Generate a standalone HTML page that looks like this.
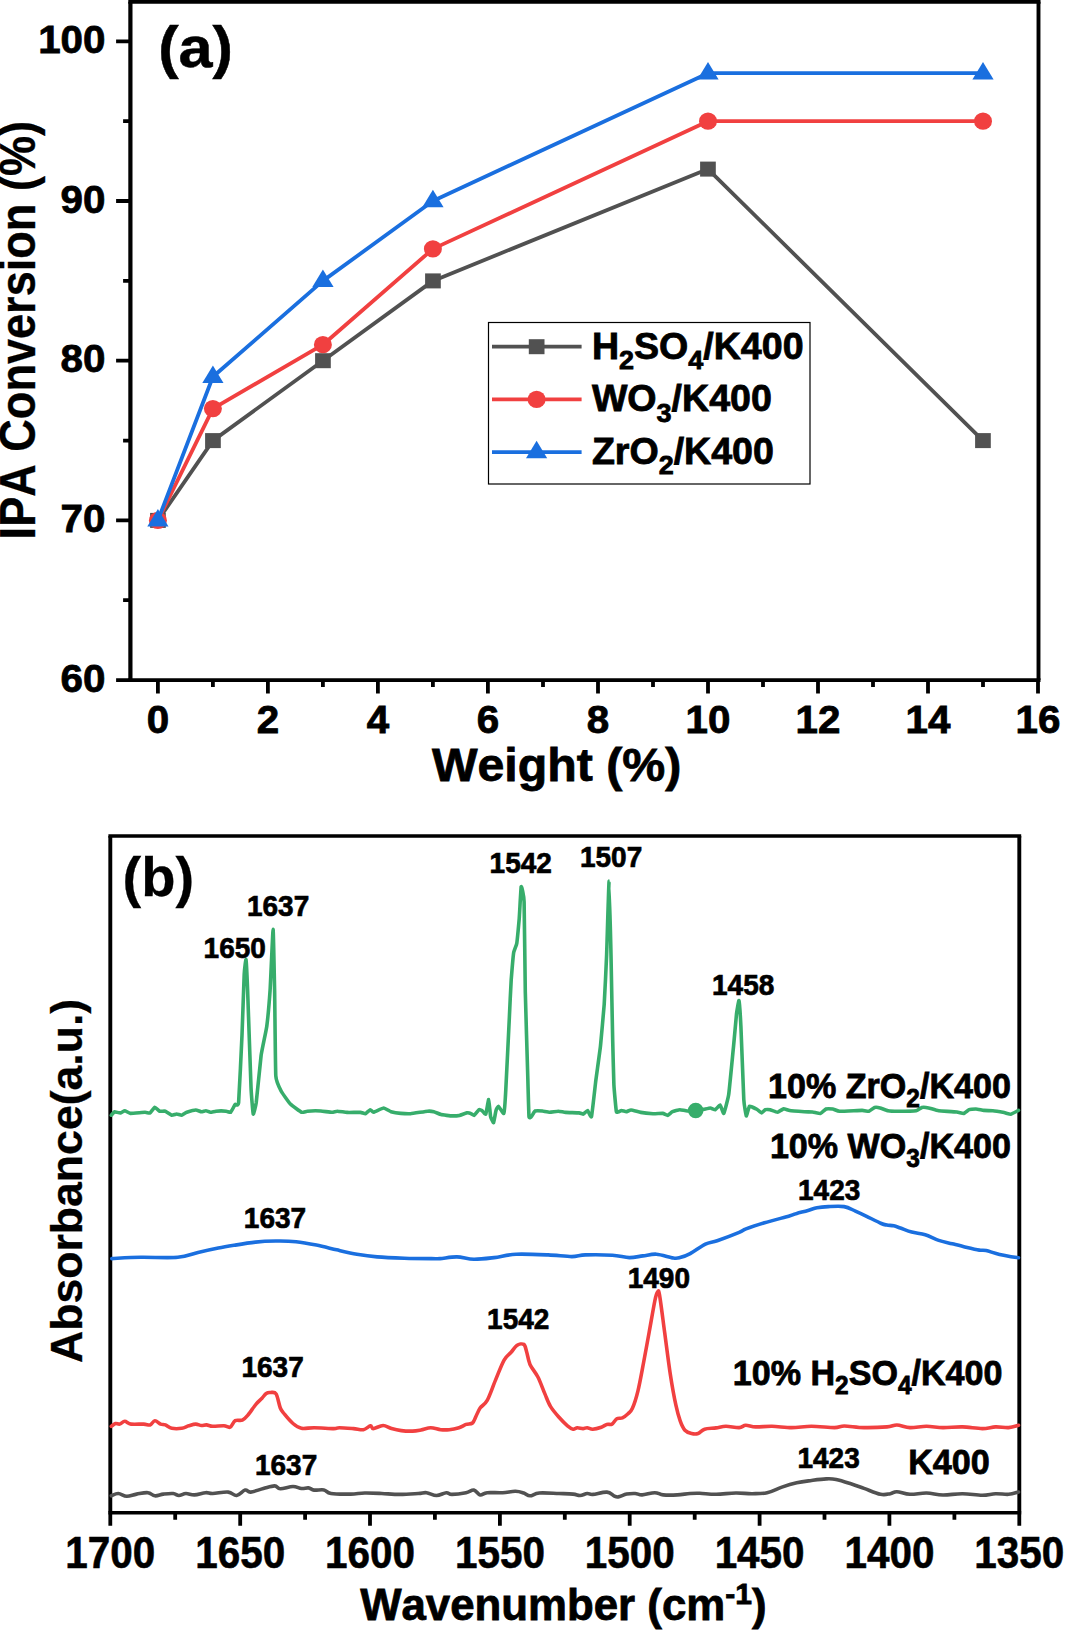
<!DOCTYPE html>
<html><head><meta charset="utf-8"><title>Figure</title>
<style>html,body{margin:0;padding:0;background:#fff}svg{display:block}text{font-family:"Liberation Sans",Arial,sans-serif;font-weight:bold;fill:#000;font-kerning:none}</style></head><body>
<svg width="1065" height="1632" viewBox="0 0 1065 1632">
<rect width="1065" height="1632" fill="#fff"/>
<g stroke="#000" fill="none" stroke-linecap="butt">
<path d="M128.3,1.8H1040.5M128.3,680.1H1040.5" stroke-width="3.7"/>
<path d="M130.4,1.8V680.1" stroke-width="4.2"/><path d="M1038.5,1.8V680.1" stroke-width="3.9"/>
<path stroke-width="3.8" d="M116.1,680.1H130.4M123.1,600.2H130.4M116.1,520.4H130.4M123.1,440.6H130.4M116.1,360.7H130.4M123.1,280.9H130.4M116.1,201.0H130.4M123.1,121.2H130.4M116.1,41.3H130.4"/>
<path stroke-width="3.8" d="M157.9,680.1V693.4M212.9,680.1V687.1M267.9,680.1V693.4M322.9,680.1V687.1M377.9,680.1V693.4M432.9,680.1V687.1M487.9,680.1V693.4M543.0,680.1V687.1M598.0,680.1V693.4M653.0,680.1V687.1M708.0,680.1V693.4M763.0,680.1V687.1M818.0,680.1V693.4M873.0,680.1V687.1M928.0,680.1V693.4M983.0,680.1V687.1M1038.0,680.1V693.4"/>
</g>
<text transform="translate(105.5,691.6) scale(1.04,1)" font-size="38.8" text-anchor="end" stroke="#000" stroke-width="0.8">60</text>
<text transform="translate(105.5,531.9) scale(1.04,1)" font-size="38.8" text-anchor="end" stroke="#000" stroke-width="0.8">70</text>
<text transform="translate(105.5,372.2) scale(1.04,1)" font-size="38.8" text-anchor="end" stroke="#000" stroke-width="0.8">80</text>
<text transform="translate(105.5,212.5) scale(1.04,1)" font-size="38.8" text-anchor="end" stroke="#000" stroke-width="0.8">90</text>
<text transform="translate(105.5,52.8) scale(1.04,1)" font-size="38.8" text-anchor="end" stroke="#000" stroke-width="0.8">100</text>
<text transform="translate(157.9,733.2) scale(1.04,1)" font-size="38.8" text-anchor="middle" stroke="#000" stroke-width="0.8">0</text>
<text transform="translate(267.9,733.2) scale(1.04,1)" font-size="38.8" text-anchor="middle" stroke="#000" stroke-width="0.8">2</text>
<text transform="translate(377.9,733.2) scale(1.04,1)" font-size="38.8" text-anchor="middle" stroke="#000" stroke-width="0.8">4</text>
<text transform="translate(487.9,733.2) scale(1.04,1)" font-size="38.8" text-anchor="middle" stroke="#000" stroke-width="0.8">6</text>
<text transform="translate(598.0,733.2) scale(1.04,1)" font-size="38.8" text-anchor="middle" stroke="#000" stroke-width="0.8">8</text>
<text transform="translate(708.0,733.2) scale(1.04,1)" font-size="38.8" text-anchor="middle" stroke="#000" stroke-width="0.8">10</text>
<text transform="translate(818.0,733.2) scale(1.04,1)" font-size="38.8" text-anchor="middle" stroke="#000" stroke-width="0.8">12</text>
<text transform="translate(928.0,733.2) scale(1.04,1)" font-size="38.8" text-anchor="middle" stroke="#000" stroke-width="0.8">14</text>
<text transform="translate(1038.0,733.2) scale(1.04,1)" font-size="38.8" text-anchor="middle" stroke="#000" stroke-width="0.8">16</text>
<text transform="translate(556.6,780.9) scale(1.03,1)" font-size="46.9" text-anchor="middle" stroke="#000" stroke-width="0.8">Weight (%)</text>
<text transform="translate(35.1,330.2) scale(1.12,1) rotate(-90)" font-size="45.1" text-anchor="middle" stroke="#000" stroke-width="0.3">IPA Conversion (%)</text>
<text transform="translate(158.2,67.3) scale(1.07,1)" font-size="57.2" text-anchor="start" stroke="#000" stroke-width="0.5">(a)</text>
<polyline points="157.9,520.4 212.9,440.6 322.9,360.7 432.9,280.9 708.0,169.1 983.0,440.6" fill="none" stroke="#515151" stroke-width="3.8" stroke-linejoin="round"/>
<rect x="150.1" y="512.9" width="15.7" height="15" fill="#515151"/>
<rect x="205.1" y="433.1" width="15.7" height="15" fill="#515151"/>
<rect x="315.1" y="353.2" width="15.7" height="15" fill="#515151"/>
<rect x="425.1" y="273.4" width="15.7" height="15" fill="#515151"/>
<rect x="700.1" y="161.6" width="15.7" height="15" fill="#515151"/>
<rect x="975.1" y="433.1" width="15.7" height="15" fill="#515151"/>
<polyline points="157.9,520.4 212.9,408.6 322.9,344.7 432.9,248.9 708.0,121.2 983.0,121.2" fill="none" stroke="#F14040" stroke-width="3.8" stroke-linejoin="round"/>
<ellipse cx="157.9" cy="520.4" rx="9" ry="8.65" fill="#F14040"/>
<ellipse cx="212.9" cy="408.6" rx="9" ry="8.65" fill="#F14040"/>
<ellipse cx="322.9" cy="344.7" rx="9" ry="8.65" fill="#F14040"/>
<ellipse cx="432.9" cy="248.9" rx="9" ry="8.65" fill="#F14040"/>
<ellipse cx="708.0" cy="121.2" rx="9" ry="8.65" fill="#F14040"/>
<ellipse cx="983.0" cy="121.2" rx="9" ry="8.65" fill="#F14040"/>
<polyline points="157.9,520.4 212.9,376.7 322.9,280.9 432.9,201.0 708.0,73.2 983.0,73.2" fill="none" stroke="#1A6FDF" stroke-width="3.8" stroke-linejoin="round"/>
<polygon points="157.9,509.1 147.3,526.6 168.5,526.6" fill="#1A6FDF"/>
<polygon points="212.9,365.4 202.3,382.9 223.5,382.9" fill="#1A6FDF"/>
<polygon points="322.9,269.6 312.3,287.1 333.6,287.1" fill="#1A6FDF"/>
<polygon points="432.9,189.7 422.3,207.2 443.6,207.2" fill="#1A6FDF"/>
<polygon points="708.0,61.9 697.4,79.4 718.6,79.4" fill="#1A6FDF"/>
<polygon points="983.0,61.9 972.4,79.4 993.6,79.4" fill="#1A6FDF"/>
<rect x="488.5" y="322.5" width="321.5" height="161.5" fill="#fff" stroke="#000" stroke-width="1.2"/>
<line x1="492" y1="346.7" x2="581.6" y2="346.7" stroke="#515151" stroke-width="3.8"/>
<rect x="528.8" y="339.2" width="15.7" height="15" fill="#515151"/>
<line x1="492" y1="399.4" x2="581.6" y2="399.4" stroke="#F14040" stroke-width="3.8"/>
<ellipse cx="536.6" cy="399.4" rx="9" ry="8.65" fill="#F14040"/>
<line x1="492" y1="452.1" x2="581.6" y2="452.1" stroke="#1A6FDF" stroke-width="3.8"/>
<polygon points="536.6,440.8 526.0,458.3 547.2,458.3" fill="#1A6FDF"/>
<text transform="translate(591.9,358.8) scale(1.038,1)" font-size="36.2" text-anchor="start" stroke="#000" stroke-width="0.8">H<tspan dy="10.3" font-size="26">2</tspan><tspan dy="-10.3">SO</tspan><tspan dy="10.3" font-size="26">4</tspan><tspan dy="-10.3">/K400</tspan></text>
<text transform="translate(591.9,411.2) scale(1.038,1)" font-size="36.2" text-anchor="start" stroke="#000" stroke-width="0.8">WO<tspan dy="10.3" font-size="26">3</tspan><tspan dy="-10.3">/K400</tspan></text>
<text transform="translate(591.9,463.6) scale(1.038,1)" font-size="36.2" text-anchor="start" stroke="#000" stroke-width="0.8">ZrO<tspan dy="10.3" font-size="26">2</tspan><tspan dy="-10.3">/K400</tspan></text>
<g stroke="#000" fill="none" stroke-linecap="butt">
<path d="M108.4,836.0H1021.2M108.4,1512.7H1021.2" stroke-width="3.5"/>
<path d="M110.3,836.0V1512.7M1019.3,836.0V1512.7" stroke-width="3.9"/>
<path stroke-width="3.8" d="M1019.3,1512.7V1525.7M954.4,1512.7V1519.7M889.4,1512.7V1525.7M824.5,1512.7V1519.7M759.6,1512.7V1525.7M694.7,1512.7V1519.7M629.7,1512.7V1525.7M564.8,1512.7V1519.7M499.9,1512.7V1525.7M434.9,1512.7V1519.7M370.0,1512.7V1525.7M305.1,1512.7V1519.7M240.2,1512.7V1525.7M175.2,1512.7V1519.7M110.3,1512.7V1525.7"/>
</g>
<text transform="translate(1019.3,1567.6) scale(0.915,1)" font-size="44.2" text-anchor="middle" stroke="#000" stroke-width="0.6">1350</text>
<text transform="translate(889.4,1567.6) scale(0.915,1)" font-size="44.2" text-anchor="middle" stroke="#000" stroke-width="0.6">1400</text>
<text transform="translate(759.6,1567.6) scale(0.915,1)" font-size="44.2" text-anchor="middle" stroke="#000" stroke-width="0.6">1450</text>
<text transform="translate(629.7,1567.6) scale(0.915,1)" font-size="44.2" text-anchor="middle" stroke="#000" stroke-width="0.6">1500</text>
<text transform="translate(499.9,1567.6) scale(0.915,1)" font-size="44.2" text-anchor="middle" stroke="#000" stroke-width="0.6">1550</text>
<text transform="translate(370.0,1567.6) scale(0.915,1)" font-size="44.2" text-anchor="middle" stroke="#000" stroke-width="0.6">1600</text>
<text transform="translate(240.2,1567.6) scale(0.915,1)" font-size="44.2" text-anchor="middle" stroke="#000" stroke-width="0.6">1650</text>
<text transform="translate(110.3,1567.6) scale(0.915,1)" font-size="44.2" text-anchor="middle" stroke="#000" stroke-width="0.6">1700</text>
<text transform="translate(563.3,1620.4) scale(1.0,1)" font-size="43.8" text-anchor="middle" stroke="#000" stroke-width="0.8">Wavenumber (cm<tspan dy="-16.5" font-size="30">-1</tspan><tspan dy="16.5">)</tspan></text>
<text transform="translate(82,1180.9) scale(0.975,1) rotate(-90)" font-size="44.6" text-anchor="middle" stroke="#000" stroke-width="0.3">Absorbance(a.u.)</text>
<text transform="translate(122.6,895.6) scale(1.012,1)" font-size="55.4" text-anchor="start" stroke="#000" stroke-width="0.3">(b)</text>
<path d="M111.3,1495.8C112.6,1495.4 115.5,1493.4 118.3,1493.5C121.1,1493.6 123.5,1496.2 126.8,1496.3C130.1,1496.4 132.8,1494.7 136.6,1494.1C140.4,1493.5 144.6,1492.4 147.9,1492.7C151.2,1493.0 152.1,1495.5 154.9,1495.8C157.7,1496.1 160.1,1494.5 163.4,1494.1C166.7,1493.7 170.4,1493.2 173.2,1493.5C176.0,1493.8 176.6,1495.5 178.9,1495.5C181.2,1495.5 183.1,1493.6 185.9,1493.5C188.7,1493.4 190.9,1495.0 194.4,1494.9C197.9,1494.8 202.3,1493.0 205.6,1492.7C208.9,1492.4 208.6,1493.6 212.7,1493.5C216.8,1493.4 223.9,1491.7 228.2,1492.1C232.5,1492.5 233.6,1495.9 236.6,1495.5C239.6,1495.1 242.6,1490.7 245.1,1490.1C247.6,1489.5 247.4,1492.4 250.7,1492.1C254.0,1491.8 259.1,1489.6 263.4,1488.5C267.7,1487.4 271.6,1485.9 274.6,1485.9C277.6,1485.9 277.0,1488.6 280.3,1488.7C283.6,1488.8 289.2,1486.5 293.0,1486.5C296.8,1486.5 298.6,1488.2 301.4,1488.5C304.2,1488.8 306.2,1487.6 308.5,1487.9C310.8,1488.2 311.3,1489.7 314.1,1490.1C316.9,1490.5 320.9,1489.3 323.9,1489.9C326.9,1490.5 326.2,1492.7 331.0,1493.5C335.8,1494.3 344.6,1494.2 350.7,1494.1C356.8,1494.0 359.2,1493.1 364.8,1493.0C370.4,1492.9 375.4,1493.2 381.7,1493.5C388.0,1493.8 393.4,1494.4 400.0,1494.4C406.6,1494.4 413.4,1493.8 418.2,1493.5C423.0,1493.2 423.3,1492.3 426.6,1492.7C429.9,1493.1 433.0,1495.5 436.5,1495.5C440.0,1495.5 443.5,1492.9 446.3,1492.7C449.1,1492.5 448.5,1494.4 452.0,1494.4C455.5,1494.4 462.1,1493.5 466.0,1492.7C469.9,1491.9 471.4,1489.7 473.9,1490.1C476.4,1490.5 477.7,1494.4 480.1,1494.9C482.5,1495.4 483.1,1493.1 487.2,1492.7C491.3,1492.3 497.6,1493.0 502.7,1492.7C507.8,1492.4 511.6,1491.2 515.4,1491.3C519.2,1491.4 521.2,1492.2 523.8,1493.0C526.4,1493.8 527.2,1495.8 530.0,1495.8C532.8,1495.8 534.1,1493.4 539.3,1493.0C544.5,1492.6 552.9,1493.3 559.0,1493.5C565.1,1493.7 569.3,1493.7 573.1,1494.1C576.9,1494.5 577.6,1495.6 580.1,1495.5C582.6,1495.4 584.9,1493.7 587.2,1493.5C589.5,1493.3 589.3,1494.7 592.8,1494.4C596.3,1494.1 603.1,1491.8 606.9,1492.1C610.7,1492.4 611.9,1494.9 613.9,1495.8C615.9,1496.7 615.9,1497.2 618.2,1496.9C620.5,1496.6 623.6,1494.7 626.6,1494.1C629.6,1493.5 632.3,1493.4 635.1,1493.5C637.9,1493.6 638.6,1495.0 642.1,1494.9C645.6,1494.8 651.0,1492.7 654.8,1492.7C658.6,1492.7 659.2,1494.5 663.2,1494.9C667.2,1495.3 672.5,1495.2 677.3,1494.9C682.1,1494.6 686.0,1493.8 690.0,1493.5C694.0,1493.2 695.0,1493.2 699.7,1493.3C704.4,1493.4 709.6,1494.4 716.1,1494.3C722.6,1494.2 729.4,1493.1 735.9,1493.0C742.4,1492.9 746.7,1493.8 752.3,1493.7C757.9,1493.6 761.8,1493.9 767.1,1492.7C772.4,1491.5 776.6,1488.9 781.9,1487.1C787.2,1485.3 791.4,1484.0 796.7,1482.8C802.0,1481.6 806.2,1481.2 811.5,1480.5C816.8,1479.8 821.8,1479.1 826.2,1478.9C830.6,1478.7 831.7,1478.6 836.1,1479.5C840.5,1480.4 845.9,1482.2 850.9,1483.8C855.9,1485.4 858.7,1486.5 864.0,1488.4C869.3,1490.3 875.8,1493.3 880.5,1494.3C885.2,1495.3 887.3,1494.2 890.3,1493.7C893.3,1493.2 893.4,1491.6 896.9,1491.7C900.4,1491.8 904.7,1494.1 910.0,1494.3C915.3,1494.5 920.6,1492.9 926.5,1493.0C932.4,1493.1 936.4,1494.9 942.9,1495.0C949.4,1495.1 955.5,1493.6 962.6,1493.7C969.7,1493.8 976.4,1495.3 982.3,1495.3C988.2,1495.3 990.8,1493.9 995.5,1493.7C1000.2,1493.5 1004.5,1494.6 1008.6,1494.3C1012.7,1494.0 1016.7,1492.4 1018.5,1492.0" fill="none" stroke="#515151" stroke-width="3.6" stroke-linejoin="round" stroke-linecap="round"/>
<path d="M111.3,1426.3C112.0,1425.9 114.2,1423.9 115.5,1423.5C116.8,1423.1 118.2,1424.5 119.7,1424.1C121.2,1423.7 123.0,1421.3 124.8,1421.3C126.6,1421.3 128.0,1423.7 131.0,1424.1C134.0,1424.5 140.6,1424.0 143.7,1424.1C146.8,1424.2 148.3,1425.4 150.1,1424.9C151.9,1424.4 153.2,1420.8 154.9,1420.7C156.6,1420.6 158.9,1423.4 160.6,1424.1C162.3,1424.8 163.6,1424.2 165.4,1424.9C167.2,1425.6 169.2,1427.8 171.8,1428.3C174.4,1428.8 179.0,1428.7 181.7,1428.3C184.4,1427.9 186.4,1426.5 188.7,1425.8C191.0,1425.1 193.8,1424.1 195.8,1424.1C197.8,1424.1 199.7,1425.4 201.4,1425.5C203.1,1425.6 204.7,1424.8 206.5,1424.9C208.3,1425.0 209.9,1426.2 212.7,1426.3C215.5,1426.4 221.1,1425.7 223.9,1425.8C226.7,1425.9 228.3,1428.0 230.1,1427.2C231.9,1426.4 233.2,1421.8 235.2,1420.7C237.2,1419.6 240.3,1421.0 242.3,1420.1C244.3,1419.2 245.7,1417.7 247.9,1415.1C250.1,1412.5 254.0,1406.5 256.3,1403.8C258.6,1401.1 260.4,1399.9 262.0,1398.2C263.6,1396.5 264.9,1394.3 266.2,1393.4C267.5,1392.5 268.8,1392.4 270.4,1392.5C272.0,1392.6 274.5,1391.4 276.1,1393.9C277.7,1396.4 279.0,1404.8 280.3,1408.0C281.6,1411.2 282.5,1411.7 284.5,1414.2C286.5,1416.7 290.3,1421.2 293.0,1423.5C295.7,1425.8 298.0,1427.6 301.4,1428.3C304.8,1429.0 308.9,1427.7 314.1,1427.7C319.3,1427.7 329.8,1428.6 333.8,1428.6C337.8,1428.6 336.2,1427.7 339.4,1427.7C342.6,1427.7 349.7,1428.3 353.5,1428.6C357.3,1428.9 360.7,1430.1 363.4,1429.7C366.1,1429.3 368.8,1426.0 370.4,1425.8C372.0,1425.6 371.2,1428.6 373.2,1428.6C375.2,1428.6 380.2,1425.5 383.1,1425.5C386.0,1425.5 388.6,1427.8 391.5,1428.6C394.4,1429.4 397.9,1430.2 401.3,1430.6C404.7,1431.0 409.3,1431.2 412.5,1431.1C415.7,1431.0 418.1,1430.5 421.0,1430.0C423.9,1429.5 427.6,1427.7 430.8,1427.7C434.0,1427.7 437.8,1429.4 440.7,1429.7C443.6,1430.0 446.3,1430.0 449.2,1429.7C452.1,1429.4 456.3,1428.5 459.0,1427.7C461.7,1426.9 463.9,1425.2 466.1,1424.4C468.3,1423.6 470.9,1424.3 472.5,1423.0C474.1,1421.7 474.7,1418.9 475.9,1416.5C477.1,1414.1 478.3,1410.6 480.1,1408.0C481.9,1405.4 484.7,1404.9 487.2,1400.4C489.7,1395.9 492.9,1386.3 495.6,1379.9C498.3,1373.5 501.6,1364.5 504.1,1360.1C506.6,1355.7 509.1,1354.6 511.1,1352.3C513.1,1350.0 514.8,1346.8 516.8,1345.5C518.8,1344.2 522.2,1343.4 523.8,1344.4C525.4,1345.4 525.6,1348.5 526.6,1351.7C527.6,1354.9 528.2,1360.4 530.0,1364.4C531.8,1368.4 535.5,1372.3 537.9,1377.0C540.3,1381.7 542.9,1389.2 544.9,1393.9C546.9,1398.6 548.3,1402.9 550.6,1406.6C552.9,1410.3 556.3,1414.2 559.0,1417.3C561.7,1420.4 565.2,1423.9 567.5,1425.8C569.8,1427.7 571.5,1428.9 573.1,1429.2C574.7,1429.5 575.7,1427.8 577.3,1427.7C578.9,1427.6 581.4,1428.6 583.0,1428.6C584.6,1428.6 585.6,1427.6 587.2,1427.7C588.8,1427.8 590.5,1429.3 592.8,1429.2C595.1,1429.1 599.0,1428.0 601.3,1427.2C603.6,1426.4 605.2,1424.9 606.9,1424.4C608.6,1423.9 610.4,1425.0 612.0,1424.1C613.6,1423.2 615.1,1419.7 616.8,1418.7C618.5,1417.7 620.6,1418.7 622.4,1417.9C624.2,1417.1 626.4,1415.2 628.0,1413.7C629.6,1412.2 630.7,1412.2 632.3,1408.6C633.9,1405.0 636.1,1398.4 637.9,1391.1C639.7,1383.8 641.7,1372.5 643.5,1363.0C645.3,1353.5 647.4,1341.9 649.2,1332.0C651.0,1322.1 653.5,1307.4 654.8,1301.0C656.1,1294.6 656.8,1292.9 657.6,1292.0C658.4,1291.1 658.5,1289.0 659.6,1295.4C660.7,1301.8 662.9,1319.4 664.6,1332.0C666.3,1344.6 668.5,1362.5 670.3,1374.2C672.1,1385.9 674.3,1397.8 675.9,1405.2C677.5,1412.6 678.7,1416.7 680.1,1420.7C681.5,1424.7 683.1,1428.2 684.9,1430.2C686.7,1432.2 689.4,1433.0 691.5,1433.5C693.6,1434.0 696.0,1434.2 698.1,1433.5C700.2,1432.8 701.7,1430.1 704.6,1429.2C707.5,1428.3 712.7,1428.4 716.1,1427.9C719.5,1427.4 722.3,1426.3 726.0,1426.3C729.7,1426.3 736.0,1427.8 739.2,1427.6C742.4,1427.4 743.1,1425.4 745.7,1425.3C748.3,1425.2 751.4,1426.7 755.6,1426.9C759.8,1427.1 766.2,1426.2 772.0,1426.3C777.8,1426.4 785.4,1427.6 791.7,1427.6C798.0,1427.6 804.6,1426.3 811.4,1426.3C818.2,1426.3 829.2,1427.6 834.5,1427.6C839.8,1427.6 839.6,1426.0 844.3,1426.0C849.0,1426.0 857.2,1427.5 864.0,1427.6C870.8,1427.7 881.7,1427.3 887.0,1426.9C892.3,1426.5 893.2,1424.9 896.9,1425.0C900.6,1425.1 905.3,1427.4 910.0,1427.6C914.7,1427.8 921.2,1426.3 926.5,1426.3C931.8,1426.3 937.1,1427.5 942.9,1427.6C948.7,1427.7 956.3,1426.7 962.6,1426.9C968.9,1427.1 977.0,1428.6 982.3,1428.6C987.6,1428.6 991.3,1427.1 995.5,1426.9C999.7,1426.7 1004.9,1427.9 1008.6,1427.6C1012.3,1427.3 1016.9,1425.7 1018.5,1425.3" fill="none" stroke="#F14040" stroke-width="3.6" stroke-linejoin="round" stroke-linecap="round"/>
<path d="M111.8,1258.6C116.4,1258.4 130.0,1257.5 140.6,1257.3C151.2,1257.1 168.6,1258.1 177.8,1257.3C187.0,1256.5 191.5,1254.0 198.0,1252.5C204.5,1251.0 212.3,1249.3 218.3,1248.1C224.3,1246.9 229.2,1246.1 235.2,1245.1C241.2,1244.1 249.0,1242.8 255.5,1242.1C262.0,1241.4 269.3,1241.1 275.8,1241.0C282.3,1240.9 289.6,1241.0 296.1,1241.7C302.6,1242.4 309.9,1243.8 316.4,1245.1C322.9,1246.4 330.1,1248.3 336.6,1249.8C343.1,1251.3 350.4,1253.1 356.9,1254.2C363.4,1255.3 369.6,1256.2 377.2,1256.9C384.8,1257.6 395.6,1258.0 404.3,1258.3C413.0,1258.6 425.6,1258.6 431.3,1258.6C437.0,1258.6 435.9,1258.9 440.0,1258.6C444.1,1258.3 451.5,1256.8 456.9,1256.9C462.3,1257.0 467.8,1259.2 473.8,1259.3C479.8,1259.4 487.3,1258.4 494.1,1257.6C500.9,1256.8 507.4,1254.6 516.1,1254.2C524.8,1253.8 539.3,1254.5 548.2,1254.9C557.1,1255.3 565.8,1256.6 571.8,1256.6C577.8,1256.6 578.9,1255.1 585.4,1254.9C591.9,1254.7 605.4,1254.8 612.4,1255.2C619.4,1255.6 624.4,1257.5 629.3,1257.6C634.2,1257.7 638.5,1256.4 642.8,1255.9C647.1,1255.4 651.5,1253.9 656.4,1254.2C661.3,1254.5 669.5,1257.5 673.3,1258.0C677.1,1258.5 677.3,1258.3 680.0,1257.6C682.7,1256.9 686.1,1255.8 690.2,1253.6C694.3,1251.4 701.1,1246.2 705.4,1244.1C709.7,1242.0 711.8,1242.6 717.2,1240.7C722.6,1238.8 734.6,1234.2 739.2,1232.3C743.8,1230.4 742.0,1230.4 746.0,1228.9C750.0,1227.4 757.5,1224.9 764.5,1222.8C771.5,1220.7 784.8,1217.3 790.0,1215.8C795.2,1214.3 793.9,1214.2 796.8,1213.4C799.7,1212.6 804.8,1211.4 808.0,1210.5C811.2,1209.6 813.8,1208.3 817.0,1207.7C820.2,1207.1 824.0,1206.8 828.3,1206.6C832.6,1206.4 839.8,1205.9 844.1,1206.6C848.4,1207.3 851.8,1209.5 855.4,1211.1C859.0,1212.7 862.5,1214.3 866.6,1216.3C870.7,1218.3 878.1,1222.1 881.3,1223.5C884.5,1224.9 884.9,1224.7 886.9,1225.1C888.9,1225.5 891.5,1225.3 893.7,1225.8C895.9,1226.3 897.5,1227.0 900.4,1228.0C903.3,1229.0 907.7,1231.0 911.7,1232.1C915.7,1233.2 920.9,1233.5 925.2,1234.8C929.5,1236.1 934.4,1239.0 938.7,1240.4C943.0,1241.8 948.0,1242.7 952.3,1243.8C956.6,1244.9 961.5,1246.2 965.8,1247.2C970.1,1248.2 976.1,1249.6 979.3,1250.1C982.5,1250.6 982.9,1249.9 986.1,1250.6C989.3,1251.3 994.4,1253.2 999.6,1254.4C1004.8,1255.6 1015.5,1257.3 1018.5,1257.8" fill="none" stroke="#1A6FDF" stroke-width="3.6" stroke-linejoin="round" stroke-linecap="round"/>
<path d="M111.3,1115.2C111.5,1115.0 114.1,1111.9 114.6,1111.8C115.1,1111.7 119.7,1113.1 120.3,1113.0C120.9,1112.9 124.2,1110.7 124.8,1110.7C125.4,1110.7 129.2,1113.3 130.4,1113.4C131.6,1113.5 143.8,1112.3 145.0,1112.3C146.2,1112.3 149.4,1113.3 150.0,1113.0C150.6,1112.7 154.2,1107.4 154.8,1107.3C155.4,1107.2 159.1,1111.0 159.7,1111.2C160.3,1111.4 164.7,1111.0 165.4,1111.2C166.1,1111.4 171.0,1115.0 171.7,1115.2C172.4,1115.4 176.0,1114.0 176.6,1114.0C177.2,1114.0 181.0,1115.3 181.6,1115.2C182.2,1115.1 185.9,1112.6 186.8,1112.3C187.7,1112.0 194.9,1110.0 195.8,1110.0C196.7,1110.0 200.8,1111.8 201.4,1111.8C202.0,1111.8 205.4,1110.7 205.9,1110.7C206.4,1110.7 209.8,1112.3 210.4,1112.3C211.0,1112.3 215.1,1111.3 216.0,1111.2C216.9,1111.1 225.3,1111.1 226.2,1111.2C227.1,1111.3 230.2,1112.7 230.7,1112.3C231.2,1111.9 234.7,1105.0 235.2,1104.4C235.7,1103.8 238.2,1107.0 238.6,1102.8C239.0,1098.6 241.7,1042.9 242.0,1035.2C242.3,1027.5 244.0,978.9 244.2,974.4C244.4,969.9 245.8,958.8 246.0,959.7C246.2,960.6 247.3,982.4 247.6,990.0C247.9,997.6 250.7,1079.6 251.0,1087.0C251.3,1094.4 252.9,1113.1 253.2,1114.0C253.5,1114.9 255.7,1106.3 256.2,1102.8C256.7,1099.3 260.5,1060.1 261.1,1055.5C261.7,1050.9 266.3,1030.1 266.8,1026.2C267.3,1022.3 269.7,995.9 270.1,990.1C270.5,984.3 272.8,929.3 273.1,929.3C273.4,929.3 274.4,981.2 274.6,990.0C274.8,998.8 275.4,1069.7 275.8,1075.8C276.2,1081.9 280.5,1089.8 281.4,1091.5C282.3,1093.2 289.2,1102.8 290.4,1104.0C291.6,1105.2 300.7,1111.9 301.7,1112.3C302.7,1112.7 306.2,1111.3 307.3,1111.2C308.4,1111.1 319.3,1110.9 320.8,1111.0C322.3,1111.1 331.0,1112.3 332.0,1112.3C333.0,1112.3 336.4,1111.2 337.3,1111.2C338.2,1111.2 345.7,1112.3 347.1,1112.4C348.5,1112.5 359.4,1112.3 360.5,1112.4C361.6,1112.5 364.8,1113.9 365.4,1113.7C366.0,1113.5 369.8,1109.8 370.3,1109.7C370.8,1109.6 372.7,1112.3 373.5,1112.2C374.3,1112.1 382.6,1108.0 383.7,1108.0C384.8,1108.0 390.0,1111.4 391.0,1111.7C392.0,1112.0 399.6,1113.3 400.8,1113.4C402.0,1113.5 409.0,1113.8 410.6,1113.7C412.2,1113.6 426.3,1111.3 427.7,1111.2C429.1,1111.1 433.0,1111.5 433.8,1111.7C434.6,1111.9 440.0,1114.3 441.1,1114.6C442.2,1114.9 451.0,1115.9 452.1,1115.9C453.2,1115.9 458.5,1115.6 459.4,1115.4C460.3,1115.2 466.0,1113.0 466.7,1112.9C467.4,1112.8 470.0,1113.2 470.4,1113.4C470.8,1113.6 473.5,1115.6 474.0,1115.4C474.5,1115.2 478.4,1110.0 478.9,1109.7C479.4,1109.4 481.5,1110.2 481.9,1110.5C482.3,1110.8 485.4,1114.8 485.8,1114.1C486.2,1113.4 488.4,1099.3 488.7,1099.5C489.0,1099.7 490.3,1115.2 490.6,1116.6C490.9,1118.0 493.3,1123.1 493.6,1122.7C493.9,1122.3 495.7,1111.5 496.0,1110.5C496.3,1109.5 498.0,1106.1 498.5,1106.3C499.0,1106.5 503.4,1114.4 503.8,1113.4C504.2,1112.4 505.5,1095.5 505.8,1089.7C506.1,1083.9 509.1,1023.1 509.4,1016.5C509.7,1009.9 510.9,983.7 511.2,979.9C511.5,976.1 513.3,955.2 513.6,953.0C513.9,950.8 516.5,945.3 516.8,943.2C517.1,941.1 518.9,922.2 519.2,918.8C519.5,915.4 520.9,887.6 521.2,886.6C521.5,885.6 523.9,895.4 524.1,901.7C524.3,908.0 525.1,981.5 525.3,992.0C525.5,1002.5 527.6,1070.0 527.8,1077.5C528.0,1085.0 528.8,1114.3 529.0,1116.6C529.2,1118.9 531.0,1116.9 531.4,1116.6C531.8,1116.3 534.4,1111.3 535.1,1111.0C535.8,1110.7 541.5,1110.9 542.4,1111.0C543.3,1111.1 548.7,1112.2 549.7,1112.2C550.7,1112.2 557.3,1111.2 558.3,1111.2C559.3,1111.2 564.4,1112.3 565.6,1112.4C566.8,1112.5 577.9,1112.8 579.0,1112.9C580.1,1113.0 582.9,1114.2 583.4,1114.1C583.9,1114.0 587.1,1110.3 587.6,1110.5C588.1,1110.7 591.0,1118.3 591.5,1116.6C592.0,1114.9 595.1,1086.6 595.6,1082.4C596.1,1078.2 600.0,1050.5 600.5,1045.8C601.0,1041.1 603.8,1009.7 604.2,1004.3C604.6,998.9 606.3,962.8 606.6,955.4C606.9,948.0 608.8,881.0 609.1,881.0C609.4,881.0 610.8,945.8 611.0,955.4C611.2,965.0 612.5,1033.1 612.7,1040.9C612.9,1048.7 613.7,1080.6 613.9,1084.8C614.1,1089.0 616.0,1110.2 616.4,1111.7C616.8,1113.2 620.7,1110.5 621.3,1110.5C621.9,1110.5 625.6,1111.7 626.2,1111.7C626.8,1111.7 630.1,1110.0 631.0,1110.0C631.9,1110.0 639.5,1112.2 640.8,1112.4C642.1,1112.6 651.7,1113.6 653.0,1113.7C654.3,1113.8 661.9,1113.3 662.8,1113.4C663.7,1113.5 667.1,1115.5 667.7,1115.4C668.3,1115.3 671.8,1112.0 672.5,1111.7C673.2,1111.4 679.0,1109.7 679.9,1109.7C680.8,1109.7 686.3,1111.0 687.2,1111.0C688.1,1111.0 694.7,1110.6 695.7,1110.5C696.7,1110.4 703.4,1109.5 704.3,1109.3C705.2,1109.1 709.7,1108.0 710.4,1108.0C711.1,1108.0 714.7,1109.9 715.3,1109.7C715.9,1109.5 719.6,1104.7 720.1,1104.9C720.6,1105.1 723.3,1114.0 723.8,1113.4C724.3,1112.8 728.1,1098.7 728.7,1094.6C729.3,1090.5 733.1,1050.6 733.6,1045.8C734.1,1041.0 736.2,1016.7 736.5,1014.0C736.8,1011.3 738.7,999.9 739.0,1000.6C739.3,1001.3 740.6,1020.4 740.9,1026.3C741.2,1032.2 743.5,1094.1 743.8,1099.5C744.1,1104.9 746.0,1115.5 746.3,1115.9C746.6,1116.3 748.8,1106.7 749.4,1106.3C750.0,1105.9 756.1,1108.9 756.8,1109.3C757.5,1109.7 761.2,1112.9 761.7,1112.9C762.2,1112.9 764.8,1109.9 765.3,1109.7C765.8,1109.5 769.5,1109.5 770.2,1109.7C770.9,1109.9 776.7,1112.3 777.5,1112.2C778.3,1112.1 782.9,1108.9 783.6,1108.8C784.3,1108.7 788.5,1110.3 789.7,1110.5C790.9,1110.7 803.0,1111.6 804.4,1111.7C805.8,1111.8 811.5,1111.9 812.5,1112.0C813.5,1112.1 819.6,1113.7 820.4,1113.5C821.2,1113.3 825.3,1109.3 826.0,1109.0C826.7,1108.7 832.0,1108.9 832.8,1109.0C833.6,1109.1 837.8,1111.2 839.6,1111.3C841.4,1111.4 860.3,1110.4 862.1,1110.4C863.9,1110.4 868.2,1111.5 868.9,1111.3C869.6,1111.1 873.8,1107.7 874.5,1107.5C875.2,1107.3 879.3,1107.7 880.1,1107.9C880.9,1108.1 886.9,1110.6 888.0,1110.8C889.1,1111.0 896.5,1111.3 898.2,1111.3C899.9,1111.3 914.8,1111.0 916.2,1110.8C917.6,1110.6 921.1,1107.7 921.8,1107.5C922.5,1107.3 927.6,1107.7 928.6,1107.9C929.6,1108.1 937.0,1110.6 938.7,1110.8C940.4,1111.0 955.3,1111.8 956.8,1112.0C958.3,1112.2 962.8,1113.6 963.5,1113.5C964.2,1113.4 968.5,1110.0 969.2,1109.7C969.9,1109.4 975.0,1109.0 975.9,1109.0C976.8,1109.0 982.8,1110.3 983.8,1110.4C984.8,1110.5 991.6,1110.7 992.8,1110.8C994.0,1110.9 1003.0,1112.4 1004.1,1112.6C1005.2,1112.8 1009.9,1114.3 1010.8,1114.2C1011.7,1114.1 1018.0,1110.6 1018.5,1110.4" fill="none" stroke="#37AD6B" stroke-width="3.6" stroke-linejoin="round" stroke-linecap="round"/>
<circle cx="695.7" cy="1110.5" r="7.8" fill="#37AD6B"/>
<text transform="translate(203.6,957.6999999999999) scale(0.934,1)" font-size="30" text-anchor="start" stroke="#000" stroke-width="0.7">1650</text>
<text transform="translate(246.9,916.0) scale(0.934,1)" font-size="30" text-anchor="start" stroke="#000" stroke-width="0.7">1637</text>
<text transform="translate(489.6,872.8) scale(0.934,1)" font-size="30" text-anchor="start" stroke="#000" stroke-width="0.7">1542</text>
<text transform="translate(579.9,866.6) scale(0.934,1)" font-size="30" text-anchor="start" stroke="#000" stroke-width="0.7">1507</text>
<text transform="translate(712.0,995.4) scale(0.934,1)" font-size="30" text-anchor="start" stroke="#000" stroke-width="0.7">1458</text>
<text transform="translate(243.79999999999998,1228.4) scale(0.934,1)" font-size="30" text-anchor="start" stroke="#000" stroke-width="0.7">1637</text>
<text transform="translate(798.0,1200.1000000000001) scale(0.934,1)" font-size="30" text-anchor="start" stroke="#000" stroke-width="0.7">1423</text>
<text transform="translate(627.7,1288.4) scale(0.934,1)" font-size="30" text-anchor="start" stroke="#000" stroke-width="0.7">1490</text>
<text transform="translate(487.1,1329.4) scale(0.934,1)" font-size="30" text-anchor="start" stroke="#000" stroke-width="0.7">1542</text>
<text transform="translate(241.4,1377.2) scale(0.934,1)" font-size="30" text-anchor="start" stroke="#000" stroke-width="0.7">1637</text>
<text transform="translate(254.9,1474.6000000000001) scale(0.934,1)" font-size="30" text-anchor="start" stroke="#000" stroke-width="0.7">1637</text>
<text transform="translate(797.4,1468.2) scale(0.934,1)" font-size="30" text-anchor="start" stroke="#000" stroke-width="0.7">1423</text>
<text transform="translate(1010.9,1097.5) scale(0.977,1)" font-size="34.9" text-anchor="end" stroke="#000" stroke-width="0.8">10% ZrO<tspan dy="9.5" font-size="25">2</tspan><tspan dy="-9.5">/K400</tspan></text>
<text transform="translate(1010.9,1157.8) scale(0.977,1)" font-size="34.9" text-anchor="end" stroke="#000" stroke-width="0.8">10% WO<tspan dy="9.5" font-size="25">3</tspan><tspan dy="-9.5">/K400</tspan></text>
<text transform="translate(1002.5,1384.6) scale(0.977,1)" font-size="34.9" text-anchor="end" stroke="#000" stroke-width="0.8">10% H<tspan dy="9.5" font-size="25">2</tspan><tspan dy="-9.5">SO</tspan><tspan dy="9.5" font-size="25">4</tspan><tspan dy="-9.5">/K400</tspan></text>
<text transform="translate(989.8,1473.9) scale(0.965,1)" font-size="35.4" text-anchor="end" stroke="#000" stroke-width="0.8">K400</text>
</svg></body></html>
